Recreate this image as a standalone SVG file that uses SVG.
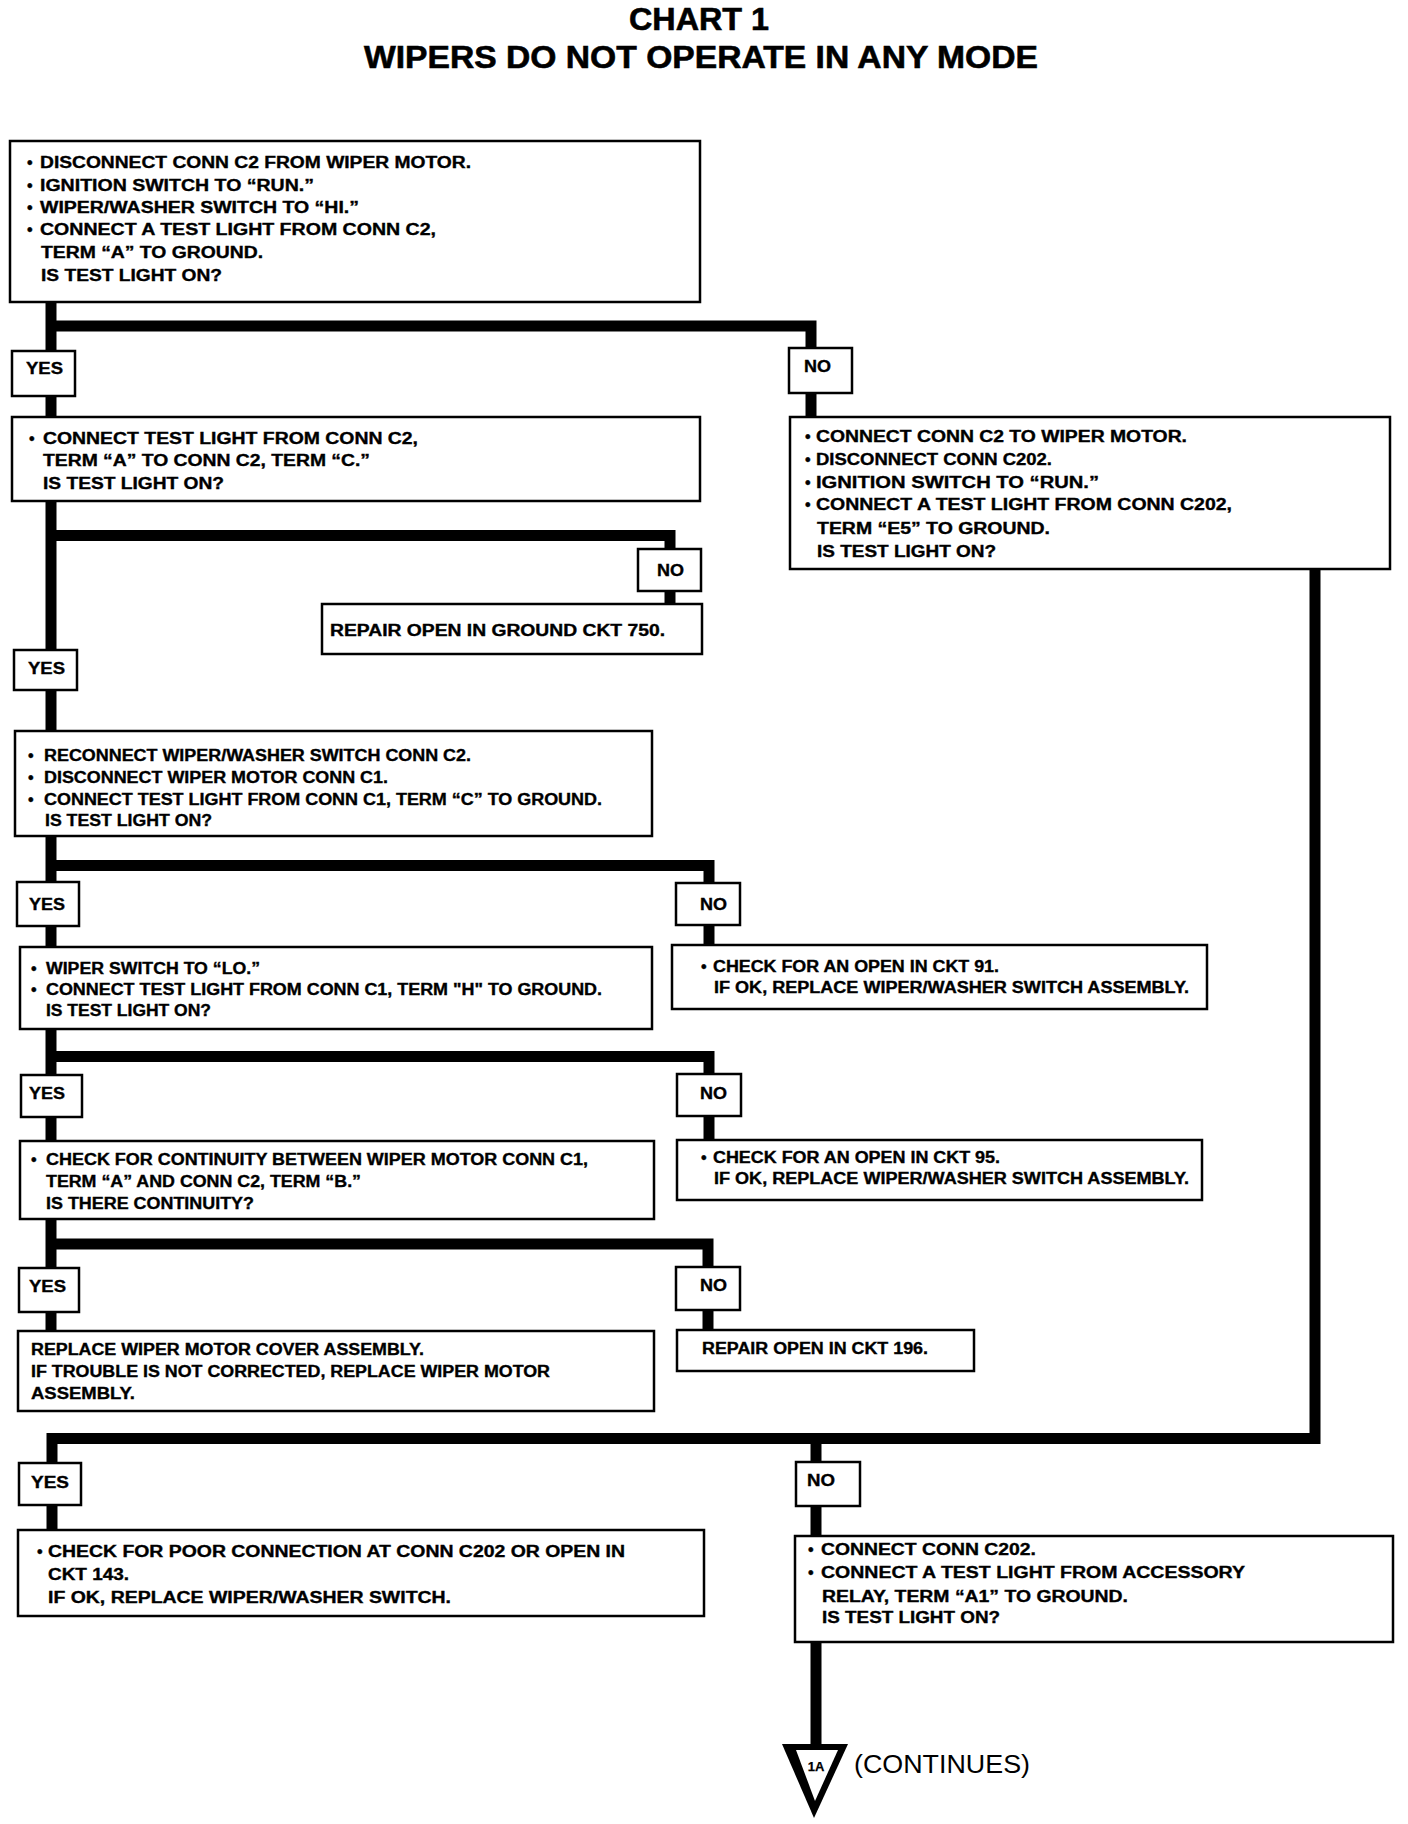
<svg xmlns="http://www.w3.org/2000/svg" width="1408" height="1824" viewBox="0 0 1408 1824">
<style>
.bg{fill:#fff}
.box{fill:#fff;stroke:#000;stroke-width:2.5}
.conn{fill:none;stroke:#000;stroke-width:11;stroke-linejoin:miter;stroke-linecap:butt}
.t{font-family:"Liberation Sans",Arial,Helvetica,sans-serif;font-weight:bold;font-size:16px;fill:#000;stroke:#000;stroke-width:0.35}
.lbl{font-family:"Liberation Sans",Arial,Helvetica,sans-serif;font-weight:bold;font-size:16.5px;fill:#000;stroke:#000;stroke-width:0.35}
.title{font-family:"Liberation Sans",Arial,Helvetica,sans-serif;font-weight:bold;font-size:32px;fill:#000;stroke:#000;stroke-width:0.6}
.cont{font-family:"Liberation Sans",Arial,Helvetica,sans-serif;font-weight:normal;font-size:26px;fill:#000}
</style>
<rect class="bg" x="0" y="0" width="1408" height="1824"/>

<g id="title">
<text class="title" x="629" y="30" textLength="140" lengthAdjust="spacingAndGlyphs">CHART 1</text>
<text class="title" x="364" y="68" textLength="674" lengthAdjust="spacingAndGlyphs">WIPERS DO NOT OPERATE IN ANY MODE</text>
</g>

<g id="connectors">
<path class="conn" d="M51,302 V351"/>
<path class="conn" d="M51,326 H811 V348"/>
<path class="conn" d="M51,396 V417"/>
<path class="conn" d="M811,393 V417"/>
<path class="conn" d="M51,501 V650"/>
<path class="conn" d="M51,535.5 H670 V549"/>
<path class="conn" d="M670,591 V604"/>
<path class="conn" d="M51,690 V731"/>
<path class="conn" d="M51,836 V882"/>
<path class="conn" d="M51,865.5 H709 V883"/>
<path class="conn" d="M709,925 V945"/>
<path class="conn" d="M51,926 V947"/>
<path class="conn" d="M51,1029 V1075"/>
<path class="conn" d="M51,1056.5 H709 V1074"/>
<path class="conn" d="M709,1116 V1140"/>
<path class="conn" d="M51,1117 V1141"/>
<path class="conn" d="M51,1219 V1268"/>
<path class="conn" d="M51,1244 H708 V1267"/>
<path class="conn" d="M708,1310 V1330"/>
<path class="conn" d="M51,1312 V1331"/>
<path class="conn" d="M1315,569 V1438.5 H52 V1463"/>
<path class="conn" d="M816,1438.5 V1462"/>
<path class="conn" d="M52,1505 V1530"/>
<path class="conn" d="M816,1506 V1536"/>
<path class="conn" d="M816,1642 V1746"/>
</g>

<g id="n1">
<rect class="box" x="10" y="141" width="690" height="161"/>
<text class="t" x="27" y="168">•</text>
<text class="t" x="40" y="168" textLength="431" lengthAdjust="spacingAndGlyphs">DISCONNECT CONN C2 FROM WIPER MOTOR.</text>
<text class="t" x="27" y="191">•</text>
<text class="t" x="40" y="191" textLength="274" lengthAdjust="spacingAndGlyphs">IGNITION SWITCH TO “RUN.”</text>
<text class="t" x="27" y="213">•</text>
<text class="t" x="40" y="213" textLength="319" lengthAdjust="spacingAndGlyphs">WIPER/WASHER SWITCH TO “HI.”</text>
<text class="t" x="27" y="235">•</text>
<text class="t" x="40" y="235" textLength="396" lengthAdjust="spacingAndGlyphs">CONNECT A TEST LIGHT FROM CONN C2,</text>
<text class="t" x="41" y="258" textLength="222" lengthAdjust="spacingAndGlyphs">TERM “A” TO GROUND.</text>
<text class="t" x="41" y="281" textLength="181" lengthAdjust="spacingAndGlyphs">IS TEST LIGHT ON?</text>
</g>

<g id="yes1">
<rect class="box" x="12" y="351" width="63" height="45"/>
<text class="lbl" x="26" y="374" textLength="37" lengthAdjust="spacingAndGlyphs">YES</text>
</g>
<g id="no1">
<rect class="box" x="789" y="348" width="63" height="45"/>
<text class="lbl" x="804" y="372" textLength="27" lengthAdjust="spacingAndGlyphs">NO</text>
</g>

<g id="n2">
<rect class="box" x="12" y="417" width="688" height="84"/>
<text class="t" x="29" y="444">•</text>
<text class="t" x="43" y="444" textLength="375" lengthAdjust="spacingAndGlyphs">CONNECT TEST LIGHT FROM CONN C2,</text>
<text class="t" x="43" y="466" textLength="327" lengthAdjust="spacingAndGlyphs">TERM “A” TO CONN C2, TERM “C.”</text>
<text class="t" x="43" y="489" textLength="181" lengthAdjust="spacingAndGlyphs">IS TEST LIGHT ON?</text>
</g>

<g id="nR1">
<rect class="box" x="790" y="417" width="600" height="152"/>
<text class="t" x="805" y="442">•</text>
<text class="t" x="816" y="442" textLength="371" lengthAdjust="spacingAndGlyphs">CONNECT CONN C2 TO WIPER MOTOR.</text>
<text class="t" x="805" y="465">•</text>
<text class="t" x="816" y="465" textLength="236" lengthAdjust="spacingAndGlyphs">DISCONNECT CONN C202.</text>
<text class="t" x="805" y="488">•</text>
<text class="t" x="816" y="488" textLength="283" lengthAdjust="spacingAndGlyphs">IGNITION SWITCH TO “RUN.”</text>
<text class="t" x="805" y="510">•</text>
<text class="t" x="816" y="510" textLength="416" lengthAdjust="spacingAndGlyphs">CONNECT A TEST LIGHT FROM CONN C202,</text>
<text class="t" x="817" y="534" textLength="233" lengthAdjust="spacingAndGlyphs">TERM “E5” TO GROUND.</text>
<text class="t" x="817" y="557" textLength="179" lengthAdjust="spacingAndGlyphs">IS TEST LIGHT ON?</text>
</g>

<g id="no2">
<rect class="box" x="638" y="549" width="63" height="42"/>
<text class="lbl" x="657" y="576" textLength="27" lengthAdjust="spacingAndGlyphs">NO</text>
</g>

<g id="n_repair750">
<rect class="box" x="322" y="604" width="380" height="50"/>
<text class="t" x="330" y="636" textLength="335" lengthAdjust="spacingAndGlyphs">REPAIR OPEN IN GROUND CKT 750.</text>
</g>

<g id="yes2">
<rect class="box" x="14" y="650" width="63" height="40"/>
<text class="lbl" x="28" y="674" textLength="37" lengthAdjust="spacingAndGlyphs">YES</text>
</g>

<g id="n3">
<rect class="box" x="15" y="731" width="637" height="105"/>
<text class="t" x="28" y="761">•</text>
<text class="t" x="44" y="761" textLength="427" lengthAdjust="spacingAndGlyphs">RECONNECT WIPER/WASHER SWITCH CONN C2.</text>
<text class="t" x="28" y="783">•</text>
<text class="t" x="44" y="783" textLength="344" lengthAdjust="spacingAndGlyphs">DISCONNECT WIPER MOTOR CONN C1.</text>
<text class="t" x="28" y="805">•</text>
<text class="t" x="44" y="805" textLength="558" lengthAdjust="spacingAndGlyphs">CONNECT TEST LIGHT FROM CONN C1, TERM “C” TO GROUND.</text>
<text class="t" x="45" y="826" textLength="167" lengthAdjust="spacingAndGlyphs">IS TEST LIGHT ON?</text>
</g>

<g id="yes3">
<rect class="box" x="17" y="882" width="62" height="44"/>
<text class="lbl" x="29" y="910" textLength="36" lengthAdjust="spacingAndGlyphs">YES</text>
</g>
<g id="no3">
<rect class="box" x="676" y="883" width="64" height="42"/>
<text class="lbl" x="700" y="910" textLength="27" lengthAdjust="spacingAndGlyphs">NO</text>
</g>

<g id="n4">
<rect class="box" x="20" y="947" width="632" height="82"/>
<text class="t" x="31" y="974">•</text>
<text class="t" x="46" y="974" textLength="214" lengthAdjust="spacingAndGlyphs">WIPER SWITCH TO “LO.”</text>
<text class="t" x="31" y="995">•</text>
<text class="t" x="46" y="995" textLength="556" lengthAdjust="spacingAndGlyphs">CONNECT TEST LIGHT FROM CONN C1, TERM "H" TO GROUND.</text>
<text class="t" x="46" y="1016" textLength="165" lengthAdjust="spacingAndGlyphs">IS TEST LIGHT ON?</text>
</g>

<g id="n_ckt91">
<rect class="box" x="672" y="945" width="535" height="64"/>
<text class="t" x="701" y="972">•</text>
<text class="t" x="713" y="972" textLength="286" lengthAdjust="spacingAndGlyphs">CHECK FOR AN OPEN IN CKT 91.</text>
<text class="t" x="714" y="993" textLength="475" lengthAdjust="spacingAndGlyphs">IF OK, REPLACE WIPER/WASHER SWITCH ASSEMBLY.</text>
</g>

<g id="yes4">
<rect class="box" x="21" y="1075" width="61" height="42"/>
<text class="lbl" x="29" y="1099" textLength="36" lengthAdjust="spacingAndGlyphs">YES</text>
</g>
<g id="no4">
<rect class="box" x="677" y="1074" width="64" height="42"/>
<text class="lbl" x="700" y="1099" textLength="27" lengthAdjust="spacingAndGlyphs">NO</text>
</g>

<g id="n5">
<rect class="box" x="20" y="1141" width="634" height="78"/>
<text class="t" x="31" y="1165">•</text>
<text class="t" x="46" y="1165" textLength="542" lengthAdjust="spacingAndGlyphs">CHECK FOR CONTINUITY BETWEEN WIPER MOTOR CONN C1,</text>
<text class="t" x="46" y="1187" textLength="315" lengthAdjust="spacingAndGlyphs">TERM “A” AND CONN C2, TERM “B.”</text>
<text class="t" x="46" y="1209" textLength="208" lengthAdjust="spacingAndGlyphs">IS THERE CONTINUITY?</text>
</g>

<g id="n_ckt95">
<rect class="box" x="677" y="1140" width="525" height="60"/>
<text class="t" x="701" y="1163">•</text>
<text class="t" x="713" y="1163" textLength="287" lengthAdjust="spacingAndGlyphs">CHECK FOR AN OPEN IN CKT 95.</text>
<text class="t" x="714" y="1184" textLength="475" lengthAdjust="spacingAndGlyphs">IF OK, REPLACE WIPER/WASHER SWITCH ASSEMBLY.</text>
</g>

<g id="yes5">
<rect class="box" x="19" y="1268" width="60" height="44"/>
<text class="lbl" x="29" y="1292" textLength="37" lengthAdjust="spacingAndGlyphs">YES</text>
</g>
<g id="no5">
<rect class="box" x="676" y="1267" width="64" height="43"/>
<text class="lbl" x="700" y="1291" textLength="27" lengthAdjust="spacingAndGlyphs">NO</text>
</g>

<g id="n_cover">
<rect class="box" x="18" y="1331" width="636" height="80"/>
<text class="t" x="31" y="1355" textLength="393" lengthAdjust="spacingAndGlyphs">REPLACE WIPER MOTOR COVER ASSEMBLY.</text>
<text class="t" x="31" y="1377" textLength="519" lengthAdjust="spacingAndGlyphs">IF TROUBLE IS NOT CORRECTED, REPLACE WIPER MOTOR</text>
<text class="t" x="31" y="1399" textLength="104" lengthAdjust="spacingAndGlyphs">ASSEMBLY.</text>
</g>

<g id="n_repair196">
<rect class="box" x="677" y="1330" width="297" height="41"/>
<text class="t" x="702" y="1354" textLength="226" lengthAdjust="spacingAndGlyphs">REPAIR OPEN IN CKT 196.</text>
</g>

<g id="yes6">
<rect class="box" x="19" y="1463" width="62" height="42"/>
<text class="lbl" x="31" y="1488" textLength="38" lengthAdjust="spacingAndGlyphs">YES</text>
</g>
<g id="no6">
<rect class="box" x="796" y="1462" width="64" height="44"/>
<text class="lbl" x="807" y="1486" textLength="28" lengthAdjust="spacingAndGlyphs">NO</text>
</g>

<g id="n_c202">
<rect class="box" x="18" y="1530" width="686" height="86"/>
<text class="t" x="37" y="1557">•</text>
<text class="t" x="48" y="1557" textLength="577" lengthAdjust="spacingAndGlyphs">CHECK FOR POOR CONNECTION AT CONN C202 OR OPEN IN</text>
<text class="t" x="48" y="1580" textLength="81" lengthAdjust="spacingAndGlyphs">CKT 143.</text>
<text class="t" x="48" y="1603" textLength="403" lengthAdjust="spacingAndGlyphs">IF OK, REPLACE WIPER/WASHER SWITCH.</text>
</g>

<g id="n_relay">
<rect class="box" x="795" y="1536" width="598" height="106"/>
<text class="t" x="808" y="1555">•</text>
<text class="t" x="821" y="1555" textLength="215" lengthAdjust="spacingAndGlyphs">CONNECT CONN C202.</text>
<text class="t" x="808" y="1578">•</text>
<text class="t" x="821" y="1578" textLength="424" lengthAdjust="spacingAndGlyphs">CONNECT A TEST LIGHT FROM ACCESSORY</text>
<text class="t" x="822" y="1602" textLength="306" lengthAdjust="spacingAndGlyphs">RELAY, TERM “A1” TO GROUND.</text>
<text class="t" x="822" y="1623" textLength="178" lengthAdjust="spacingAndGlyphs">IS TEST LIGHT ON?</text>
</g>

<g id="offpage_1A">
<polygon points="782,1744 848,1744 814,1818" fill="#000"/>
<polygon points="796,1750 838,1750 815,1801" fill="#fff"/>
<text class="t" x="816" y="1771" text-anchor="middle" style="font-size:13px;stroke-width:0.25">1A</text>
<text class="cont" x="854" y="1773" textLength="176" lengthAdjust="spacingAndGlyphs">(CONTINUES)</text>
</g>
</svg>
